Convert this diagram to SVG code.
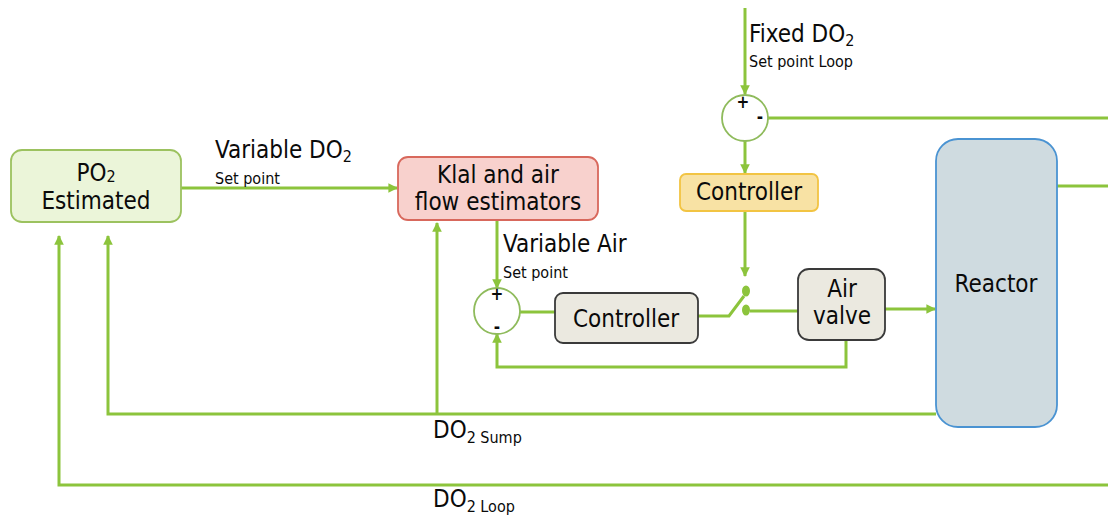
<svg xmlns="http://www.w3.org/2000/svg" width="1108" height="515" viewBox="0 0 1108 515">
<style>
text{font-family:"DejaVu Sans","Liberation Sans",sans-serif;font-stretch:condensed;fill:#0a0a0a}
.lbl{font-size:24px}
.box{font-size:24px;text-anchor:middle}
.sm{font-size:16px}
.sub{font-size:16px}
.sign{font-size:17px;font-weight:bold;text-anchor:middle}
.ln{fill:none;stroke:#8cc43c;stroke-width:3}
.arr{marker-end:url(#ah)}
.sum{fill:#fff;stroke:#8fbb5c;stroke-width:1.8}
</style>
<defs>
<marker id="ah" viewBox="0 0 10 10" refX="9" refY="5" markerWidth="3.2" markerHeight="3.2" orient="auto" markerUnits="strokeWidth">
<path d="M0,0L10,5L0,10z" fill="#8cc43c"/>
</marker>
</defs>
<rect width="1108" height="515" fill="#fff"/>
<g id="connectors">
<path class="ln arr" d="M745,8V94"/>
<path class="ln" d="M768,118H1108"/>
<path class="ln arr" d="M745,141V173"/>
<path class="ln arr" d="M745,211V276"/>
<path class="ln" d="M698,316H729L744,296"/>
<path class="ln" d="M750,311H798"/>
<path class="ln arr" d="M885,309H935"/>
<path class="ln arr" d="M846,340V367H497V334"/>
<path class="ln arr" d="M497,220V288"/>
<path class="ln" d="M520,312H555"/>
<path class="ln arr" d="M181,188H397"/>
<path class="ln" d="M1057,186H1108"/>
<path class="ln arr" d="M936,414H108V236"/>
<path class="ln arr" d="M437,414V223"/>
<path class="ln arr" d="M1108,485H59V236"/>
<ellipse cx="746" cy="291" rx="4" ry="5.5" fill="#8cc43c"/>
<ellipse cx="746" cy="310" rx="4" ry="5.5" fill="#8cc43c"/>
</g>
<g id="sum1">
<circle class="sum" cx="745" cy="118" r="23"/>
<text class="sign" x="743" y="108">+</text>
<text class="sign" x="760" y="123">-</text>
</g>
<g id="sum2">
<circle class="sum" cx="497" cy="311" r="23"/>
<text class="sign" x="497" y="300">+</text>
<text class="sign" x="497" y="333">-</text>
</g>
<g id="po2">
<rect x="11" y="150" width="170" height="72" rx="11" fill="#ebf5d9" stroke="#9cc25f" stroke-width="1.8"/>
<text class="box" x="96" y="181">PO<tspan class="sub" dy="1">2</tspan></text>
<text class="box" x="96" y="209">Estimated</text>
</g>
<g id="klal">
<rect x="398" y="157" width="200" height="63" rx="10" fill="#f8d1cd" stroke="#d8685c" stroke-width="1.8"/>
<text class="box" x="498" y="183">Klal and air</text>
<text class="box" x="498" y="210">flow estimators</text>
</g>
<g id="controller-fixed">
<rect x="680" y="174" width="138" height="37" rx="6" fill="#f8e2a4" stroke="#f2c443" stroke-width="1.8"/>
<text class="box" x="749" y="200">Controller</text>
</g>
<g id="controller-air">
<rect x="555" y="293" width="143" height="50" rx="8" fill="#ebe9e0" stroke="#3a3a3a" stroke-width="1.8"/>
<text class="box" x="626" y="327">Controller</text>
</g>
<g id="airvalve">
<rect x="798" y="269" width="87" height="71" rx="11" fill="#ebe9e0" stroke="#3a3a3a" stroke-width="1.8"/>
<text class="box" x="842" y="297">Air</text>
<text class="box" x="842" y="324">valve</text>
</g>
<g id="reactor">
<rect x="936" y="139" width="121" height="288" rx="22" fill="#cfdbe0" stroke="#4a93d2" stroke-width="1.8"/>
<text class="box" x="996" y="292">Reactor</text>
</g>
<g id="labels">
<text class="lbl" x="749" y="42">Fixed DO<tspan class="sub" dy="4">2</tspan></text>
<text class="sm" x="749" y="67">Set point Loop</text>
<text class="lbl" x="215" y="158">Variable DO<tspan class="sub" dy="4">2</tspan></text>
<text class="sm" x="215" y="184">Set point</text>
<text class="lbl" x="503" y="252">Variable Air</text>
<text class="sm" x="503" y="278">Set point</text>
<text class="lbl" x="433" y="438">DO<tspan class="sub" dy="5">2 Sump</tspan></text>
<text class="lbl" x="433" y="507">DO<tspan class="sub" dy="5">2 Loop</tspan></text>
</g>
</svg>
